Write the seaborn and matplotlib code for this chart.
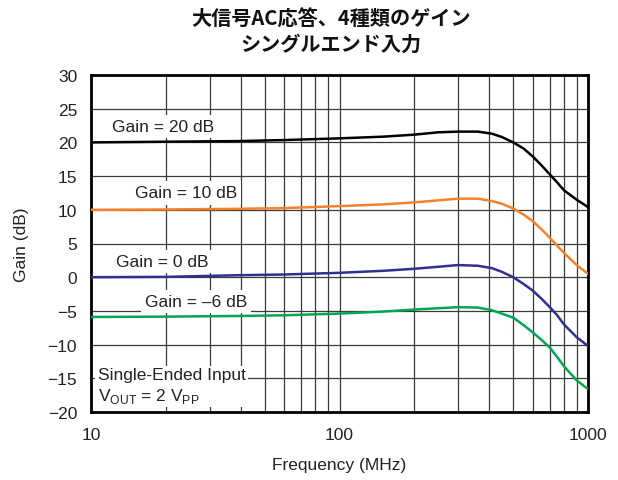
import matplotlib
matplotlib.use("Agg")
import matplotlib.pyplot as plt
from matplotlib.ticker import LogLocator, NullFormatter
import pandas as pd
import seaborn as sns

# Frequency response data (MHz, dB)
freq_mhz = [10, 20, 40, 60, 100, 150, 200, 250, 300, 360, 410, 450, 500,
            550, 600, 650, 700, 750, 800, 900, 1000]
gain_20db = [20.0, 20.1, 20.2, 20.35, 20.6, 20.85, 21.15, 21.5, 21.6, 21.6, 21.3,
             20.8, 20.0, 19.1, 17.9, 16.6, 15.3, 14.1, 12.9, 11.5, 10.4]
gain_10db = [10.0, 10.05, 10.15, 10.25, 10.55, 10.8, 11.1, 11.4, 11.65, 11.65, 11.3,
             10.9, 10.2, 9.3, 8.3, 7.1, 5.9, 4.7, 3.6, 1.8, 0.5]
gain_0db = [0.0, 0.05, 0.3, 0.4, 0.65, 0.95, 1.25, 1.55, 1.8, 1.7, 1.35,
            0.8, 0.0, -1.0, -2.0, -3.2, -4.4, -5.6, -7.0, -8.9, -10.2]
gain_m6db = [-5.9, -5.85, -5.75, -5.65, -5.4, -5.1, -4.8, -4.6, -4.45, -4.5, -4.9,
             -5.4, -6.0, -7.1, -8.2, -9.3, -10.4, -11.8, -13.2, -15.3, -16.6]

series_names = ["Gain = 20 dB", "Gain = 10 dB", "Gain = 0 dB", "Gain = \u20136 dB"]
series_values = [gain_20db, gain_10db, gain_0db, gain_m6db]
series_colors = ["#000000", "#F5822A", "#2E3192", "#00A651"]

xticks = [10, 100, 1000]
xtick_labels = ["10", "100", "1000"]
yticks = list(range(-20, 31, 5))

title_lines = ["大信号AC応答、4種類のゲイン", "シングルエンド入力"]

df = pd.concat(
    [pd.DataFrame({"freq": freq_mhz, "gain": vals, "series": name})
     for name, vals in zip(series_names, series_values)],
    ignore_index=True,
)

sns.set_theme(style="white")
plt.rcParams["font.family"] = ["Liberation Sans", "DejaVu Sans"]
plt.rcParams["axes.unicode_minus"] = True

fig = plt.figure(figsize=(6.18, 4.81), dpi=100)
ax = fig.add_axes([91 / 618, 68 / 481, 497 / 618, 337 / 481])

sns.lineplot(data=df, x="freq", y="gain", hue="series", hue_order=series_names,
             palette=series_colors, linewidth=1.8, legend=False, ax=ax, zorder=3)

ax.set_xscale("log")
ax.set_xlim(10, 1000)
ax.set_ylim(-20, 30)
ax.set_xticks(xticks)
ax.set_xticklabels(xtick_labels)
ax.xaxis.set_minor_locator(LogLocator(base=10, subs=range(2, 10)))
ax.xaxis.set_minor_formatter(NullFormatter())
ax.set_yticks(yticks)

ax.set_axisbelow(True)
ax.grid(True, which="both", axis="x", color="#3a3a3a", linewidth=0.9)
ax.grid(True, which="major", axis="y", color="#3a3a3a", linewidth=0.9)

ax.tick_params(axis="both", which="both", length=0, labelsize=12.5,
               colors="#222222")
ax.tick_params(axis="x", pad=11)
ax.tick_params(axis="y", pad=10)

for sp in ax.spines.values():
    sp.set_visible(True)
    sp.set_color("black")
    sp.set_linewidth(2)

ax.set_xlabel("Frequency (MHz)", fontsize=12.5, color="#222222")
ax.set_ylabel("Gain (dB)", fontsize=12.5, color="#222222")
ax.xaxis.set_label_coords(0.5, -0.135)
ax.yaxis.set_label_coords(-0.125, 0.5)

# Curve annotations with white boxes over the grid
box = dict(facecolor="white", edgecolor="none", pad=3)
label_pos = [(12.2, 22.4), (15.0, 12.5), (12.6, 2.3), (16.5, -3.6)]
for name, (lx, ly) in zip(series_names, label_pos):
    ax.text(lx, ly, name, fontsize=12.5, color="#222222", ha="left",
            va="center", bbox=box, zorder=4)

ax.text(10.65, -18.9,
        "Single-Ended Input\nV$_\\mathregular{OUT}$ = 2 V$_\\mathregular{PP}$",
        fontsize=12.5, color="#222222", ha="left", va="bottom",
        linespacing=1.25, bbox=dict(facecolor="white", edgecolor="none", pad=2),
        zorder=4)

for i, line in enumerate(title_lines):
    fig.text(0.536, 1 - (19 + 25 * i) / 481, line, ha="center", va="center",
             fontsize=14.5, fontweight="bold", color="#111111",
             family=["Noto Sans CJK JP", "DejaVu Sans"])

fig.savefig("out.png", dpi=100)
